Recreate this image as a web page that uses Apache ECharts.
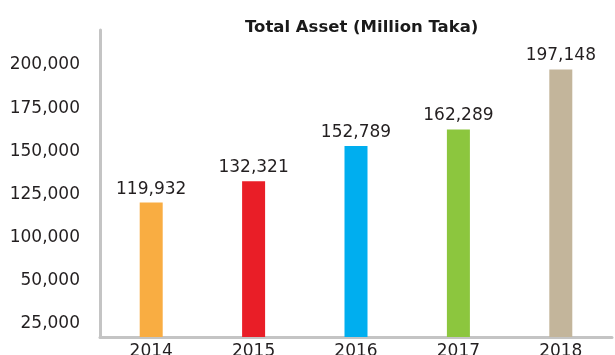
<!DOCTYPE html>
<html>
<head>
<meta charset="utf-8">
<title>Total Asset (Million Taka)</title>
<script src="https://cdn.jsdelivr.net/npm/echarts@6/dist/echarts.min.js"></script>
<style>
  html, body { margin: 0; padding: 0; background: #ffffff; }
  #chart { width: 615px; height: 355px; }
</style>
</head>
<body>
<div id="chart"></div>
<script>
// Year categories and total assets (million Taka)
const years = ['2014', '2015', '2016', '2017', '2018'];
const totalAssets = [119932, 132321, 152789, 162289, 197148];
const barColors = ['#F9AD42', '#E91E27', '#00AEEF', '#8CC63E', '#C3B59B'];
// Labels printed along the vertical axis, bottom to top
const tickLabels = ['25,000', '50,000', '100,000', '125,000', '150,000', '175,000', '200,000'];

const FONT = 'DejaVu Sans';
const TEXT = '#231f20';
const AXIS = '#c4c4c4';

const chart = echarts.init(document.getElementById('chart'), null, { renderer: 'canvas' });

chart.setOption({
  animation: false,
  backgroundColor: '#ffffff',
  title: {
    text: 'Total Asset (Million Taka)',
    left: 245,
    top: 19,
    padding: 0,
    textStyle: { fontFamily: FONT, fontSize: 16.5, fontWeight: 'bold', color: '#1a1a1a' }
  },
  grid: [
    // label band for the printed tick labels
    { left: 100, right: 3, top: 65, bottom: 31, outerBoundsMode: 'none', containLabel: false },
    // plotting area for the bars; year labels run off the bottom edge
    { left: 100, right: 3, top: 30, bottom: 18, outerBoundsMode: 'none', containLabel: false }
  ],
  xAxis: [
    { gridIndex: 0, type: 'value', show: false },
    {
      gridIndex: 1,
      type: 'category',
      data: years,
      axisLine: { show: true, onZero: false, lineStyle: { color: AXIS, width: 3 } },
      axisTick: { show: false },
      axisLabel: { margin: 6, fontFamily: FONT, fontSize: 17, color: TEXT }
    }
  ],
  yAxis: [
    {
      gridIndex: 0,
      type: 'category',
      data: tickLabels,
      boundaryGap: false,
      axisLine: { show: false },
      axisTick: { show: false },
      splitLine: { show: false },
      axisLabel: { margin: 20, fontFamily: FONT, fontSize: 17, color: TEXT }
    },
    {
      gridIndex: 1,
      type: 'value',
      min: 42000,
      max: 220000,
      axisLine: { show: true, lineStyle: { color: AXIS, width: 3 } },
      axisTick: { show: false },
      axisLabel: { show: false },
      splitLine: { show: false }
    }
  ],
  series: [
    {
      type: 'bar',
      xAxisIndex: 1,
      yAxisIndex: 1,
      barWidth: 23,
      data: totalAssets.map((v, i) => ({ value: v, itemStyle: { color: barColors[i] } })),
      label: {
        show: true,
        position: 'top',
        distance: 5,
        fontFamily: FONT,
        fontSize: 17,
        color: TEXT,
        formatter: p => p.value.toLocaleString('en-US')
      }
    }
  ]
});
</script>
</body>
</html>
